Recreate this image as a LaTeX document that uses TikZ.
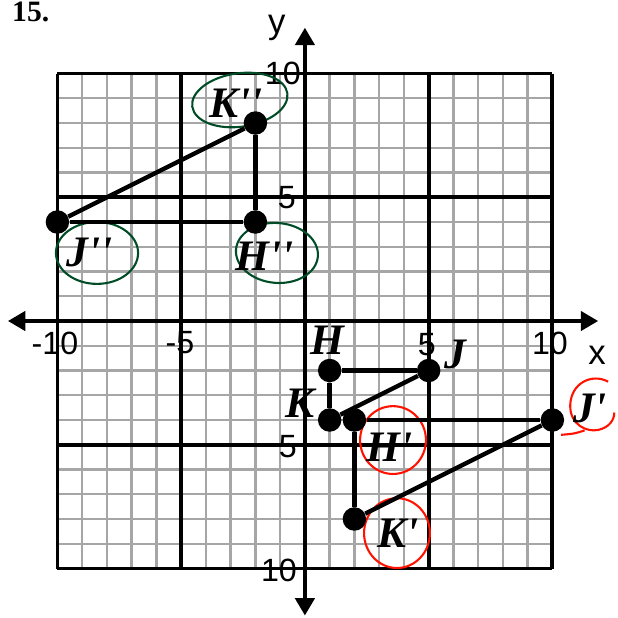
\documentclass[tikz,border=0pt]{standalone}
\usepackage{fontspec}
\setmainfont{Liberation Serif}
\setsansfont{Liberation Sans}
\newfontfamily\lab{Liberation Serif}[Ligatures=TeXOff]
\usetikzlibrary{arrows.meta}
\begin{document}
\begin{tikzpicture}[x=0.5cm,y=0.5cm,
  thin grid/.style={draw=gray!70, line width=1.4pt},
  bold grid/.style={draw=black, line width=2.2pt},
  axis/.style={draw=black, line width=2.3pt},
  seg/.style={draw=black, line width=2.5pt},
  dot/.style={circle, fill=black, inner sep=0pt, minimum size=13.5pt},
  num/.style={font=\sffamily\fontsize{18.5}{18.5}\selectfont, inner sep=0pt},
  ptlab/.style={font=\lab\bfseries\itshape\fontsize{25}{25}\selectfont, inner sep=0pt},
  greenring/.style={draw=green!35!black!85!blue, line width=1.2pt},
  redring/.style={draw=red!85!orange, line width=1.2pt}]
\useasboundingbox (-12.32,-12.0) rectangle (12.61,12.97);
% thin grid
\foreach \k in {-9,...,9} {
  \draw[thin grid] (\k,-10) -- (\k,10);
  \draw[thin grid] (-10,\k) -- (10,\k);
}
% bold grid
\foreach \k in {-10,-5,5,10} {
  \draw[bold grid] (\k,-10) -- (\k,10);
  \draw[bold grid] (-10,\k) -- (10,\k);
}
% axes
\coordinate (xl) at (-12.0,0);
\coordinate (xr) at (11.85,0);
\coordinate (yt) at (0,11.85);
\coordinate (yb) at (0,-11.9);
\draw[axis, {Triangle[length=10pt,width=11pt]}-{Triangle[length=10pt,width=11pt]}] (xl) -- (xr);
\draw[axis, {Triangle[length=10pt,width=11pt]}-{Triangle[length=10pt,width=11pt]}] (yb) -- (yt);
% axis labels
\node[font=\sffamily\fontsize{20}{20}\selectfont, inner sep=0pt] (ylab) at (-1.13,11.85) {y};
\node[font=\sffamily\fontsize{20}{20}\selectfont, inner sep=0pt] (xlab) at (11.8,-1.37) {x};
\node[num] (n1) at (-0.89,10.02) {10};
\node[num] (n2) at (-0.73,4.97) {5};
\node[num] (n3) at (-0.69,-5.09) {5};
\node[num] (n4) at (-1.05,-10.06) {10};
\node[num] (n5) at (-10.1,-0.89) {-10};
\node[num] (n6) at (-5.05,-0.89) {-5};
\node[num] (n7) at (4.93,-0.97) {5};
\node[num] (n8) at (9.9,-0.89) {10};
% title
\node[font=\bfseries\fontsize{17}{17}\selectfont, anchor=base west, inner sep=0pt] (title) at (-11.84,12.12) {15.};
% rings
\draw[greenring, rotate around={8:(-2.63,8.93)}] (-2.63,8.93) ellipse (1.94 and 1.08);
\draw[greenring] (-8.4,2.75) ellipse (1.66 and 1.25);
\draw[greenring, rotate around={-5:(-1.13,2.75)}] (-1.13,2.75) ellipse (1.66 and 1.21);
\draw[redring] (3.56,-4.81) ellipse (1.33 and 1.37);
\draw[redring] (3.72,-8.57) ellipse (1.33 and 1.41);
\draw[redring] (12.25,-2.45) .. controls (11.6,-2.1) and (10.75,-2.5) .. (10.72,-3.4)
  .. controls (10.7,-4.2) and (11.4,-4.5) .. (11.85,-4.4)
  .. controls (12.3,-4.3) and (12.5,-4.0) .. (12.5,-3.7);
\draw[redring] (11.3,-4.42) .. controls (10.9,-4.55) .. (10.35,-4.6);
% points
\node[dot] (H) at (1,-2) {};
\node[dot] (J) at (5,-2) {};
\node[dot] (K) at (1,-4) {};
\node[dot] (H1) at (2,-4) {};
\node[dot] (J1) at (10,-4) {};
\node[dot] (K1) at (2,-8) {};
\node[dot] (H2) at (-2,4) {};
\node[dot] (J2) at (-10,4) {};
\node[dot] (K2) at (-2,8) {};
\draw[seg] (H) -- (J);
\draw[seg] (J) -- (K);
\draw[seg] (K) -- (H);
\draw[seg] (H1) -- (J1);
\draw[seg] (J1) -- (K1);
\draw[seg] (K1) -- (H1);
\draw[seg] (H2) -- (J2);
\draw[seg] (J2) -- (K2);
\draw[seg] (K2) -- (H2);
% point labels
\node[ptlab] (lH) at (0.89,-0.77) {H};
\node[ptlab] (lJ) at (6.06,-1.37) {J};
\node[ptlab] (lK) at (-0.2,-3.31) {K};
\node[ptlab] (lH1) at (3.43,-5.09) {H'};
\node[ptlab] (lJ1) at (11.52,-3.52) {J'};
\node[ptlab] (lK1) at (3.76,-8.57) {K'};
\node[ptlab] (lK2) at (-2.79,8.81) {K''};
\node[ptlab] (lJ2) at (-8.69,2.75) {J''};
\node[ptlab] (lH2) at (-1.62,2.63) {H''};
\end{tikzpicture}
\end{document}
